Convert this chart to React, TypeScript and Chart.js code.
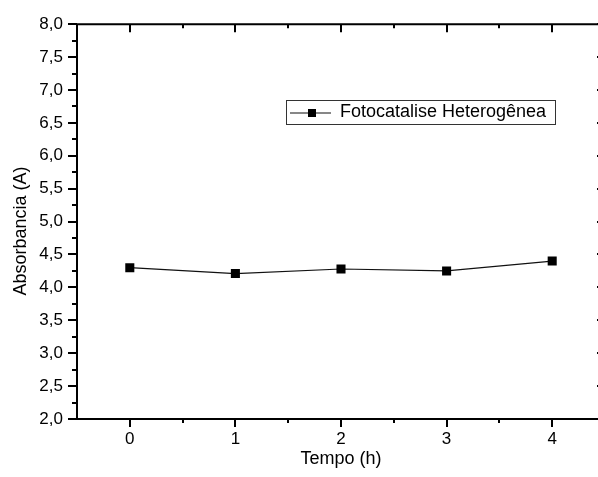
import React, { useEffect, useRef } from "react";
import { Chart, registerables } from "chart.js";

Chart.register(...registerables);

// ---- data ----
const tempoHoras = [0, 1, 2, 3, 4];
const absorbancia = [4.3, 4.21, 4.28, 4.25, 4.4];
const xTickValues = [0, 1, 2, 3, 4];
const xRange = [-0.5, 4.5];
const yRange = [2, 8];
const yStep = 0.5;
const seriesLabel = "Fotocatalise Heterogênea";
const xTitle = "Tempo (h)";
const yTitle = "Absorbancia (A)";

const FONT = "'Liberation Sans', Arial, Helvetica, sans-serif";

const framePlugin = {
  id: "originFrame",
  afterDraw(chart: any) {
    const { ctx, chartArea } = chart;
    const { left, right, top, bottom } = chartArea;
    const xs = chart.scales.x;
    const ys = chart.scales.y;
    ctx.save();
    ctx.strokeStyle = "#000";
    ctx.lineWidth = 2;
    ctx.lineCap = "butt";
    ctx.beginPath();
    ctx.rect(left, top, right - left, bottom - top);
    ctx.stroke();

    ctx.beginPath();
    // y ticks (major & minor)
    const nY = Math.round((yRange[1] - yRange[0]) / (yStep / 2));
    for (let i = 0; i <= nY; i++) {
      const v = yRange[0] + (i * yStep) / 2;
      const py = Math.round(ys.getPixelForValue(v));
      const major = i % 2 === 0;
      const lenOut = major ? 9 : 5;
      const lenIn = major ? 8 : 4;
      ctx.moveTo(left - lenOut, py);
      ctx.lineTo(left, py);
      ctx.moveTo(right, py);
      ctx.lineTo(right - lenIn, py);
    }
    // x ticks
    const nX = Math.round((xRange[1] - xRange[0]) / 0.5);
    for (let i = 0; i <= nX; i++) {
      const v = xRange[0] + i * 0.5;
      const major = Math.abs(v - Math.round(v)) < 1e-6;
      const px = Math.round(xs.getPixelForValue(v));
      if (px <= left + 1 || px >= right - 1) continue;
      const lenOut = major ? 8 : 4;
      const lenIn = major ? 8 : 4;
      ctx.moveTo(px, bottom);
      ctx.lineTo(px, bottom + lenOut);
      ctx.moveTo(px, top);
      ctx.lineTo(px, top + lenIn);
    }
    ctx.stroke();

    // y axis title
    ctx.fillStyle = "#000";
    ctx.font = `18px ${FONT}`;
    ctx.textAlign = "center";
    ctx.textBaseline = "middle";
    ctx.save();
    ctx.translate(21, 231);
    ctx.rotate(-Math.PI / 2);
    ctx.fillText(yTitle, 0, 0);
    ctx.restore();

    // legend
    const ds = chart.data.datasets[0];
    const bx = 286.5, by = 100.5, bw = 269, bh = 24;
    ctx.lineWidth = 1;
    ctx.strokeStyle = "#333";
    ctx.strokeRect(bx, by, bw, bh);
    const ly = 113;
    ctx.strokeStyle = ds.borderColor;
    ctx.lineWidth = 1.2;
    ctx.beginPath();
    ctx.moveTo(290, ly);
    ctx.lineTo(331, ly);
    ctx.stroke();
    ctx.fillStyle = ds.pointBackgroundColor;
    ctx.fillRect(308, ly - 4, 8, 8);
    ctx.fillStyle = "#000";
    ctx.textAlign = "left";
    ctx.textBaseline = "middle";
    ctx.font = `18px ${FONT}`;
    ctx.fillText(ds.label, 340, 112);
    ctx.restore();
  },
};

export default function App() {
  const ref = useRef<HTMLCanvasElement | null>(null);

  useEffect(() => {
    if (!ref.current) return;
    const chart = new Chart(ref.current, {
      type: "line",
      data: {
        datasets: [
          {
            label: seriesLabel,
            data: tempoHoras.map((x, i) => ({ x, y: absorbancia[i] })),
            borderColor: "#111",
            borderWidth: 1.2,
            pointStyle: "rect",
            pointRadius: 6.4,
            pointBackgroundColor: "#000",
            pointBorderColor: "#000",
            pointBorderWidth: 0,
            fill: false,
            tension: 0,
          },
        ],
      },
      options: {
        animation: false,
        responsive: false,
        devicePixelRatio: 1,
        layout: { autoPadding: false, padding: { top: 23, right: 3, left: 0, bottom: 0 } },
        plugins: {
          legend: { display: false },
          tooltip: { enabled: false },
        },
        scales: {
          x: {
            type: "linear",
            min: xRange[0],
            max: xRange[1],
            grid: { display: false, drawTicks: false },
            border: { display: false },
            afterBuildTicks: (s: any) => {
              s.ticks = xTickValues.map((v) => ({ value: v }));
            },
            afterFit: (s: any) => {
              s.height = 58;
            },
            ticks: {
              padding: 10,
              autoSkip: false,
              maxRotation: 0,
              color: "#000",
              font: { family: FONT, size: 17 },
              callback: (v: any) => String(v),
            },
            title: {
              display: true,
              text: xTitle,
              color: "#000",
              font: { family: FONT, size: 18 },
              padding: { top: 0, bottom: 7 },
            },
          },
          y: {
            type: "linear",
            min: yRange[0],
            max: yRange[1],
            grid: { display: false, drawTicks: false },
            border: { display: false },
            afterFit: (s: any) => {
              s.width = 77;
            },
            ticks: {
              stepSize: yStep,
              padding: 14,
              color: "#000",
              font: { family: FONT, size: 17 },
              callback: (v: any) => Number(v).toFixed(1).replace(".", ","),
            },
          },
        },
      },
      plugins: [framePlugin],
    });
    return () => chart.destroy();
  }, []);

  return (
    <div
      style={{
        position: "absolute",
        left: 0,
        top: 0,
        width: 598,
        height: 477,
        overflow: "hidden",
        background: "#fff",
      }}
    >
      <canvas ref={ref} width={608} height={477} style={{ display: "block" }} />
    </div>
  );
}
